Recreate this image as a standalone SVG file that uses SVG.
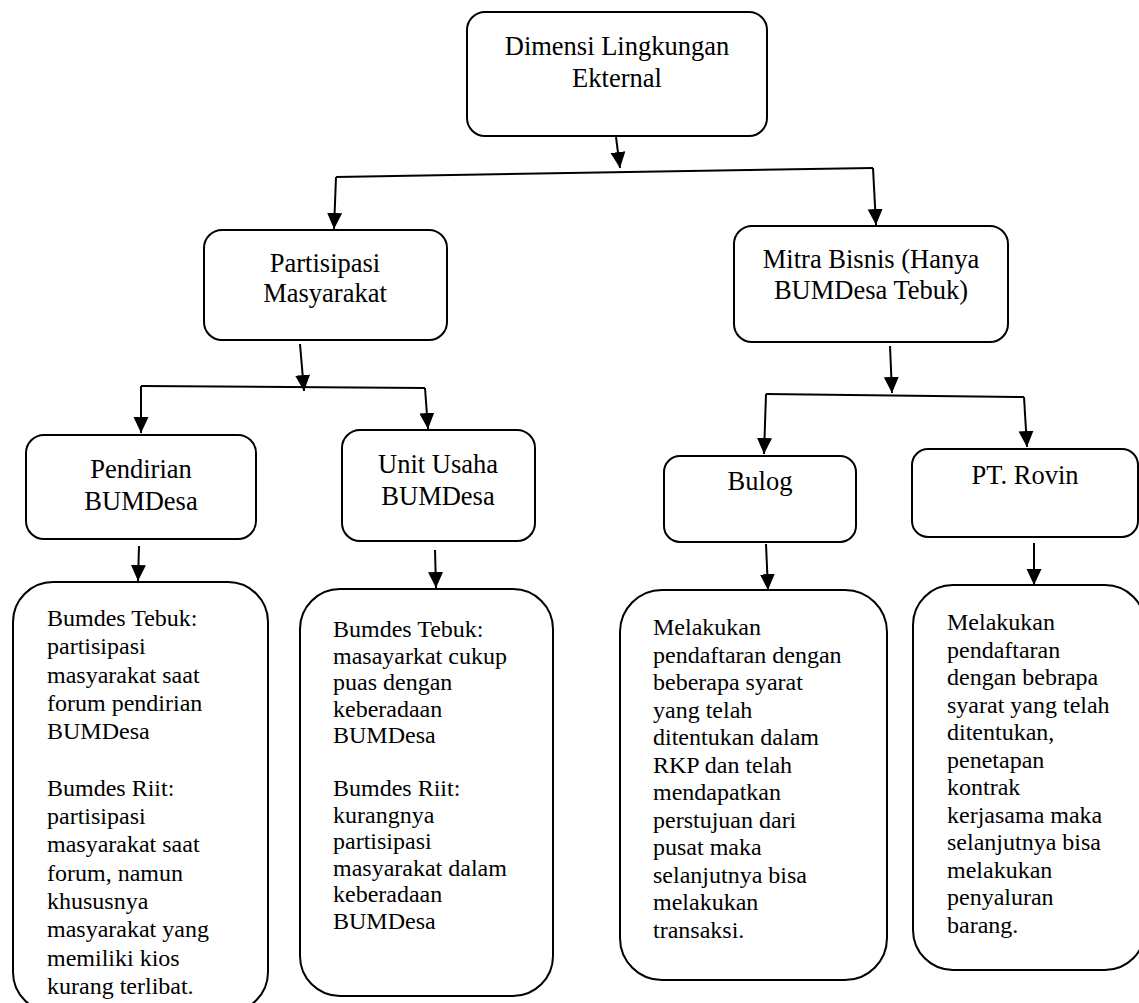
<svg xmlns="http://www.w3.org/2000/svg" width="1139" height="1003" viewBox="0 0 1139 1003">
  <defs>
    <marker id="arrow" markerUnits="userSpaceOnUse" markerWidth="16" markerHeight="16" refX="16" refY="7.5" orient="auto">
      <path d="M0,0 L16,7.5 L0,15 z" fill="#000"/>
    </marker>
  </defs>
  <style>
    .box { fill: #fff; stroke: #000; stroke-width: 2; }
    .title { font-family: "Liberation Serif", "Times New Roman", serif; font-size: 26.5px; fill: #000; text-anchor: middle; }
    .body { font-family: "Liberation Serif", "Times New Roman", serif; font-size: 24px; fill: #000; }
    .conn line { stroke: #000; stroke-width: 2; fill: none; }
    .conn line.arr { marker-end: url(#arrow); }
  </style>
  <rect width="1139" height="1003" fill="#fff"/>

  <!-- connectors: trunk lines, branch bars and arrowed drops -->
  <g id="connectors" class="conn">
    <line class="arr" x1="616" y1="137" x2="620" y2="168"/>
    <line x1="336" y1="177" x2="873" y2="168"/>
    <line class="arr" x1="336" y1="177" x2="334" y2="229"/>
    <line class="arr" x1="873" y1="168" x2="876" y2="225"/>

    <line class="arr" x1="300" y1="344" x2="304" y2="391"/>
    <line x1="141" y1="386" x2="425" y2="388"/>
    <line class="arr" x1="141" y1="386" x2="141" y2="433"/>
    <line class="arr" x1="425" y1="388" x2="428" y2="429"/>

    <line class="arr" x1="890" y1="346" x2="892" y2="393"/>
    <line x1="766" y1="394" x2="1024" y2="397"/>
    <line class="arr" x1="766" y1="394" x2="764" y2="454"/>
    <line class="arr" x1="1024" y1="397" x2="1027" y2="447"/>

    <line class="arr" x1="139" y1="546" x2="138" y2="581"/>
    <line class="arr" x1="435" y1="550" x2="436" y2="588"/>
    <line class="arr" x1="766" y1="544" x2="768" y2="590"/>
    <line class="arr" x1="1034" y1="543" x2="1034" y2="585"/>
  </g>

  <g id="node-dimensi">
    <rect class="box" x="467" y="12" width="300" height="124" rx="18"/>
    <text class="title" x="617" y="55">Dimensi Lingkungan</text>
    <text class="title" x="617" y="87">Ekternal</text>
  </g>

  <g id="node-partisipasi">
    <rect class="box" x="204" y="230" width="243" height="110" rx="18"/>
    <text class="title" x="325" y="272">Partisipasi</text>
    <text class="title" x="325" y="302">Masyarakat</text>
  </g>

  <g id="node-mitra">
    <rect class="box" x="734" y="226" width="274" height="116" rx="18"/>
    <text class="title" x="871" y="268">Mitra Bisnis (Hanya</text>
    <text class="title" x="871" y="299">BUMDesa Tebuk)</text>
  </g>

  <g id="node-pendirian">
    <rect class="box" x="26" y="435" width="230" height="104" rx="18"/>
    <text class="title" x="141" y="478">Pendirian</text>
    <text class="title" x="141" y="510">BUMDesa</text>
  </g>

  <g id="node-unit">
    <rect class="box" x="342" y="430" width="193" height="111" rx="18"/>
    <text class="title" x="438" y="473">Unit Usaha</text>
    <text class="title" x="438" y="505">BUMDesa</text>
  </g>

  <g id="node-bulog">
    <rect class="box" x="664" y="456" width="192" height="86" rx="16"/>
    <text class="title" x="760" y="490">Bulog</text>
  </g>

  <g id="node-rovin">
    <rect class="box" x="912" y="449" width="226" height="88" rx="16"/>
    <text class="title" x="1025" y="484">PT. Rovin</text>
  </g>

  <g id="node-pendirian-detail">
    <rect class="box" x="13" y="582" width="255" height="430" rx="40"/>
    <text class="body">
      <tspan x="47" y="626">Bumdes Tebuk:</tspan>
      <tspan x="47" y="654.3">partisipasi</tspan>
      <tspan x="47" y="682.6">masyarakat saat</tspan>
      <tspan x="47" y="710.9">forum pendirian</tspan>
      <tspan x="47" y="739.2">BUMDesa</tspan>
      <tspan x="47" y="795.8">Bumdes Riit:</tspan>
      <tspan x="47" y="824.1">partisipasi</tspan>
      <tspan x="47" y="852.4">masyarakat saat</tspan>
      <tspan x="47" y="880.7">forum, namun</tspan>
      <tspan x="47" y="909">khususnya</tspan>
      <tspan x="47" y="937.3">masyarakat yang</tspan>
      <tspan x="47" y="965.6">memiliki kios</tspan>
      <tspan x="47" y="993.9">kurang terlibat.</tspan>
    </text>
  </g>

  <g id="node-unit-detail">
    <rect class="box" x="300" y="589" width="253" height="407" rx="40"/>
    <text class="body">
      <tspan x="333" y="637">Bumdes Tebuk:</tspan>
      <tspan x="333" y="663.5">masayarkat cukup</tspan>
      <tspan x="333" y="690">puas dengan</tspan>
      <tspan x="333" y="716.5">keberadaan</tspan>
      <tspan x="333" y="743">BUMDesa</tspan>
      <tspan x="333" y="796">Bumdes Riit:</tspan>
      <tspan x="333" y="822.5">kurangnya</tspan>
      <tspan x="333" y="849">partisipasi</tspan>
      <tspan x="333" y="875.5">masyarakat dalam</tspan>
      <tspan x="333" y="902">keberadaan</tspan>
      <tspan x="333" y="928.5">BUMDesa</tspan>
    </text>
  </g>

  <g id="node-bulog-detail">
    <rect class="box" x="620" y="590" width="267" height="390" rx="42"/>
    <text class="body">
      <tspan x="653" y="635">Melakukan</tspan>
      <tspan x="653" y="662.5">pendaftaran dengan</tspan>
      <tspan x="653" y="690">beberapa syarat</tspan>
      <tspan x="653" y="717.5">yang telah</tspan>
      <tspan x="653" y="745">ditentukan dalam</tspan>
      <tspan x="653" y="772.5">RKP dan telah</tspan>
      <tspan x="653" y="800">mendapatkan</tspan>
      <tspan x="653" y="827.5">perstujuan dari</tspan>
      <tspan x="653" y="855">pusat maka</tspan>
      <tspan x="653" y="882.5">selanjutnya bisa</tspan>
      <tspan x="653" y="910">melakukan</tspan>
      <tspan x="653" y="937.5">transaksi.</tspan>
    </text>
  </g>

  <g id="node-rovin-detail">
    <rect class="box" x="913" y="585" width="232" height="385" rx="40"/>
    <text class="body">
      <tspan x="947" y="630">Melakukan</tspan>
      <tspan x="947" y="657.5">pendaftaran</tspan>
      <tspan x="947" y="685">dengan bebrapa</tspan>
      <tspan x="947" y="712.5">syarat yang telah</tspan>
      <tspan x="947" y="740">ditentukan,</tspan>
      <tspan x="947" y="767.5">penetapan</tspan>
      <tspan x="947" y="795">kontrak</tspan>
      <tspan x="947" y="822.5">kerjasama maka</tspan>
      <tspan x="947" y="850">selanjutnya bisa</tspan>
      <tspan x="947" y="877.5">melakukan</tspan>
      <tspan x="947" y="905">penyaluran</tspan>
      <tspan x="947" y="932.5">barang.</tspan>
    </text>
  </g>
</svg>
